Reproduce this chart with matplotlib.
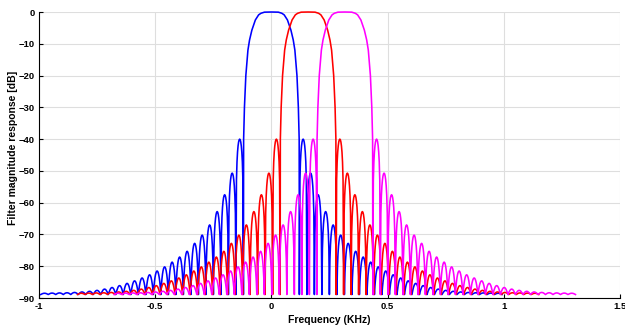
import numpy as np
import matplotlib
matplotlib.use("Agg")
import matplotlib.pyplot as plt

# filter centre frequencies (KHz) and colours
centers = [0.0, 0.158, 0.316]
colors = ["#0000ff", "#ff0000", "#ff00ff"]

# main lobe profile: offset from centre (KHz) vs level (dB)
main_offsets = [0.0, 0.030, 0.045, 0.055, 0.069, 0.084, 0.094, 0.101, 0.110, 0.116, 0.1195, 0.1204]
main_db = [0.0, -0.05, -0.4, -0.9, -2.5, -5.7, -8.8, -12.0, -20.0, -30.0, -40.0, -88.9]

# sidelobe peak levels (dB), same on both sides, going outwards
sidelobe_db = [-40.0, -50.7, -57.5, -62.8, -67.0, -70.2, -72.8, -75.3, -77.1, -78.7,
               -80.2, -81.5, -82.7, -83.7, -84.6, -85.4, -86.1, -86.7, -87.2, -87.6,
               -87.9, -88.1, -88.25, -88.35, -88.4, -88.45, -88.5]
first_sidelobe = 0.1365   # KHz from centre
lobe_spacing = 0.0323     # KHz
floor_db = -88.9


def response(c):
    # build one side (positive offsets) then mirror
    off = list(main_offsets)
    lev = list(main_db)
    floor_lin = 10 ** (floor_db / 20)
    t = np.linspace(0, 1, 15)[1:]
    for k, pk in enumerate(sidelobe_db):
        start = first_sidelobe + k * lobe_spacing - lobe_spacing / 2
        pk_lin = 10 ** (pk / 20)
        vals = 20 * np.log10(floor_lin + (pk_lin - floor_lin) * np.sin(np.pi * t))
        off.extend(start + t * lobe_spacing)
        lev.extend(vals)
    off = np.array(off)
    lev = np.array(lev)
    x = np.concatenate([c - off[::-1], c + off[1:]])
    y = np.concatenate([lev[::-1], lev[1:]])
    return x, y


fig = plt.figure(figsize=(6.25, 3.29), dpi=100)
ax = fig.add_axes([0.0624, 0.0942, 0.9296, 0.8693])

for c, col in zip(centers, colors):
    x, y = response(c)
    ax.plot(x, y, color=col, linewidth=1.15, clip_on=False)

ax.set_xlim(-1, 1.5)
ax.set_ylim(-90, 0)
ax.set_xticks([-1, -0.5, 0, 0.5, 1, 1.5])
ax.set_xticklabels(["-1", "-0.5", "0", "0.5", "1", "1.5"])
ax.set_yticks(np.arange(-90, 1, 10))
ax.grid(True, color="#dedede", linewidth=0.8)
ax.set_axisbelow(True)
for s in ["top", "right"]:
    ax.spines[s].set_visible(False)
ax.tick_params(direction="in", length=3, width=0.8, labelsize=6.8, pad=3)
for lbl in ax.get_xticklabels() + ax.get_yticklabels():
    lbl.set_fontweight("bold")
    lbl.set_fontfamily("Liberation Sans")
ax.set_xlabel("Frequency (KHz)", fontsize=7.5, fontweight="bold", family="Liberation Sans", labelpad=3)
ax.set_ylabel("Filter magnitude response [dB]", fontsize=7.5, fontweight="bold", family="Liberation Sans")
ax.yaxis.set_label_coords(-0.036, 0.524)

fig.savefig("out.png", dpi=100)
